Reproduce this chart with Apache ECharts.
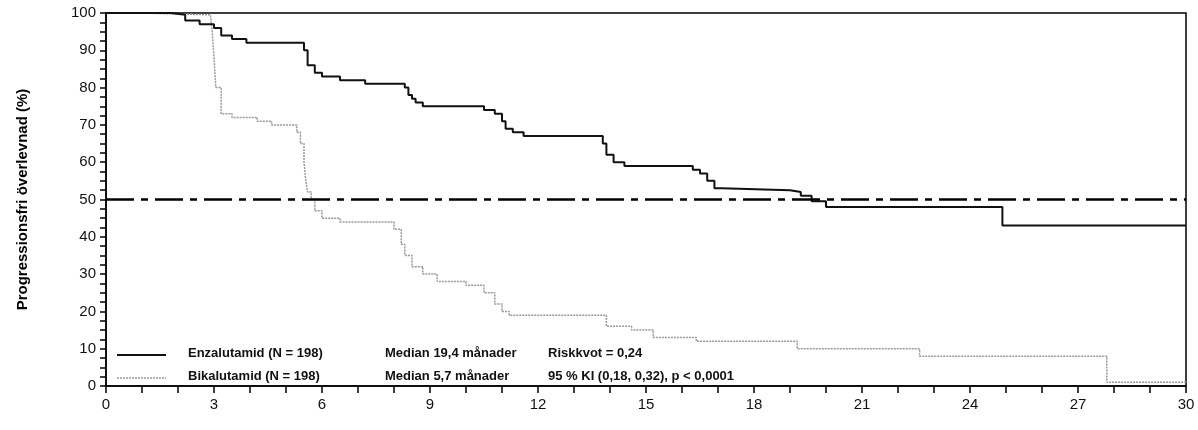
<!DOCTYPE html>
<html><head><meta charset="utf-8">
<script src="https://cdn.jsdelivr.net/npm/echarts@6/dist/echarts.min.js"></script>
<style>html,body{margin:0;background:#fff}#c{width:1198px;height:430px}</style>
</head><body><div id="c"></div>
<script>
// Kaplan-Meier steps [month, percent]
var enzalutamid = [[0,100],[1.8,99.5],[2.2,98],[2.6,97],[3.0,96],[3.2,94],[3.5,93],[3.9,92],[5.5,90],[5.6,86],[5.8,84],[6.0,83],[6.5,82],[7.2,81],[8.3,80],[8.4,78],[8.5,77],[8.6,76],[8.8,75],[10.5,74],[10.8,73],[11.0,71],[11.1,69],[11.3,68],[11.6,67],[13.8,65],[13.9,62],[14.1,60],[14.4,59],[16.3,58],[16.5,57],[16.7,55],[16.9,53],[17.1,52.5],[19.0,52],[19.3,51],[19.6,49.5],[20.0,48],[24.9,43],[30,43]];
var bikalutamid = [[0,100],[1.0,99.5],[2.9,99],[2.95,95],[3.0,88],[3.05,80],[3.2,73],[3.5,72],[4.2,71],[4.6,70],[5.3,68],[5.4,65],[5.5,60],[5.55,55],[5.6,52],[5.7,50],[5.8,47],[6.0,45],[6.5,44],[8.0,42],[8.2,38],[8.3,35],[8.5,32],[8.8,30],[9.2,28],[10.0,27],[10.5,25],[10.8,22],[11.0,20],[11.2,19],[13.9,16],[14.6,15],[15.2,13],[16.4,12],[19.2,10],[22.6,8],[27.8,1],[30,1]];
var medianLevel = 50;
var legendRows = [
  ["Enzalutamid (N = 198)", "Median 19,4 månader", "Riskkvot = 0,24"],
  ["Bikalutamid (N = 198)", "Median 5,7 månader", "95 % KI (0,18, 0,32), p < 0,0001"]
];

var chart = echarts.init(document.getElementById('c'));
var txt = {fontFamily: 'Liberation Sans Narrow, Arial Narrow, Liberation Sans, sans-serif', fontSize: 13, fontWeight: 'bold', fill: '#111'};
var g = [];
legendRows.forEach(function (r, i) {
  var y = 355 + i * 23;
  g.push({type: 'line', shape: {x1: 117, y1: y, x2: 166, y2: y},
    style: i === 0 ? {stroke: '#111', lineWidth: 2} : {stroke: '#999', lineWidth: 1.5, lineDash: [2, 1]}});
  [188, 385, 548].forEach(function (x, j) {
    g.push({type: 'text', x: x, y: y - 8, style: Object.assign({text: r[j]}, txt)});
  });
});
g.push({type: 'rect', shape: {x: 106, y: 13, width: 1080, height: 373}, style: {fill: 'none', stroke: '#000', lineWidth: 1.5}, silent: true});

var lbl = {color: '#111', fontSize: 15, fontFamily: 'Liberation Sans Narrow, Liberation Sans, sans-serif'};
chart.setOption({
  animation: false,
  grid: {left: 106, right: 12, top: 13, bottom: 44},
  xAxis: {type: 'value', min: 0, max: 30, interval: 3,
    axisLine: {lineStyle: {color: '#000', width: 1.5}},
    axisTick: {length: 7, lineStyle: {color: '#000', width: 1.5}},
    minorTick: {show: true, splitNumber: 3, length: 7, lineStyle: {color: '#000', width: 1.5}},
    axisLabel: Object.assign({margin: 11}, lbl),
    splitLine: {show: false}},
  yAxis: {type: 'value', min: 0, max: 100, interval: 10,
    name: 'Progressionsfri överlevnad (%)', nameLocation: 'middle', nameGap: 76,
    nameTextStyle: {color: '#000', fontSize: 15, fontWeight: 'bold', fontFamily: 'Liberation Sans, sans-serif'},
    axisLine: {show: true, lineStyle: {color: '#000', width: 1.5}},
    axisTick: {show: true, length: 6, lineStyle: {color: '#000', width: 1.5}},
    minorTick: {show: true, splitNumber: 4, length: 6, lineStyle: {color: '#000', width: 1.5}},
    axisLabel: Object.assign({margin: 10}, lbl),
    splitLine: {show: false}},
  graphic: g,
  series: [
    {type: 'line', step: 'end', data: enzalutamid, symbol: 'none', z: 3,
      lineStyle: {color: '#111', width: 2}},
    {type: 'line', step: 'end', data: bikalutamid, symbol: 'none', z: 2,
      lineStyle: {color: '#999', width: 1.5, type: [2, 1]}},
    {type: 'line', data: [[0, medianLevel], [30, medianLevel]], symbol: 'none', z: 4,
      lineStyle: {color: '#000', width: 2.5, type: [28, 7, 7, 7]}}
  ]
});
</script></body></html>
